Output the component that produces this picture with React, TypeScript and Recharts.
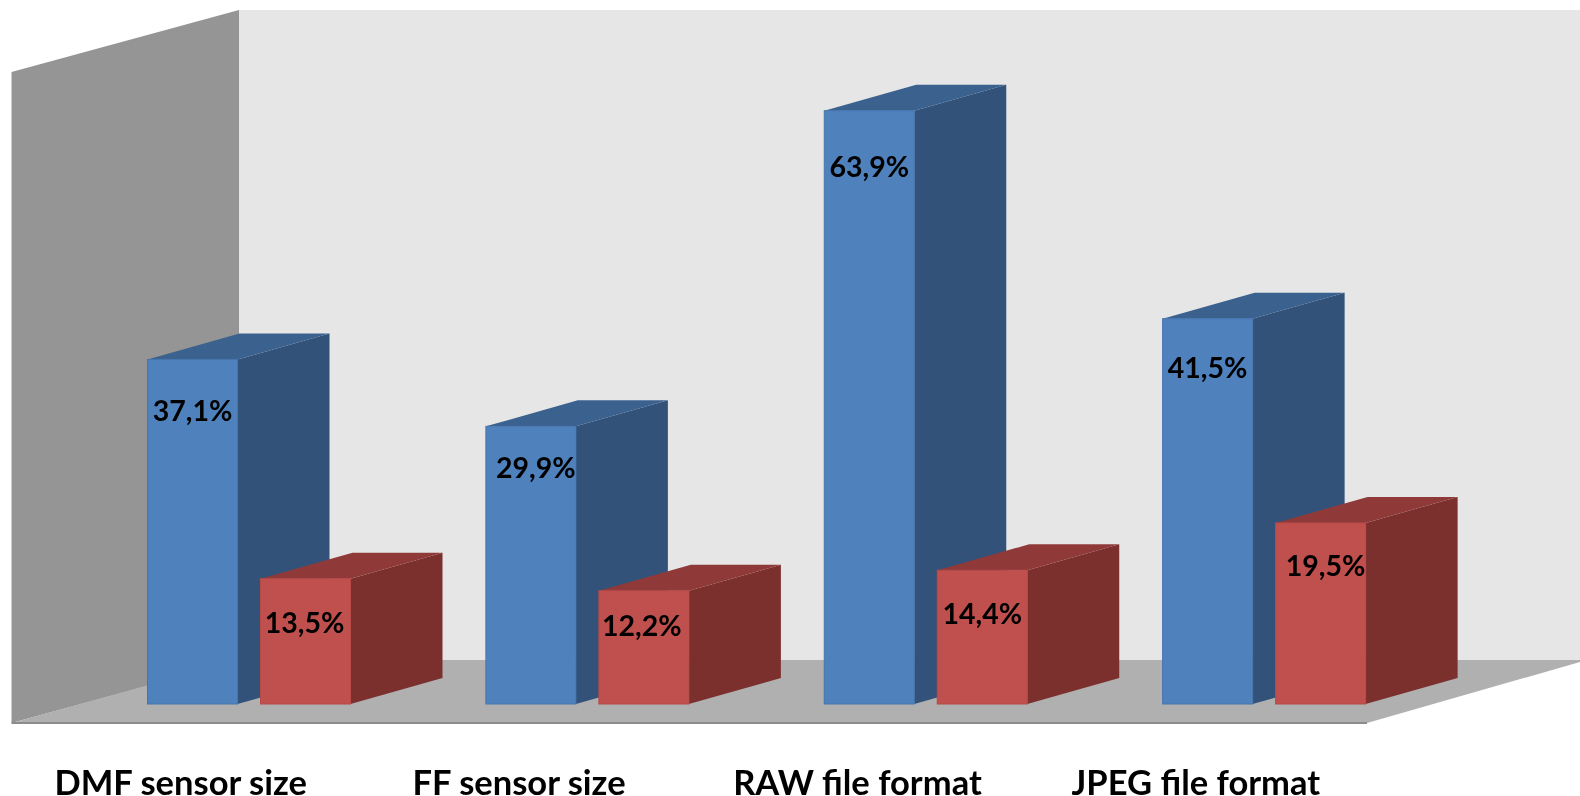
import { Bar, BarChart, LabelList, XAxis, YAxis } from "recharts";

const categories = ["DMF sensor size", "FF sensor size", "RAW file format", "JPEG file format"];
const blueValues = [37.1, 29.9, 63.9, 41.5];
const redValues = [13.5, 12.2, 14.4, 19.5];

const data = categories.map((name, i) => ({ name, blue: blueValues[i], red: redValues[i] }));

// depth of the fake 3d extrusion
const DEPTH_X = 92;
const DEPTH_Y = 26;

// the data labels were placed by hand in the original: [dx from bar centre, dy from bar top]
const blueLabelNudge = [[0, 50], [5, 41], [0, 55], [0, 48]];
const redLabelNudge = [[-1, 43], [-2, 34], [0, 43], [5, 42]];

const blueFaces = { front: "#4F81BD", stroke: "#4675AD", side: "#32527A", top: "#3B618F" };
const redFaces = { front: "#C0504D", stroke: "#B54A47", side: "#7B302E", top: "#8F3A38" };

function boxShape(faces: typeof blueFaces) {
  return function BoxBar(props: any) {
    const { x, y, width: w, height: h } = props;
    return (
      <g>
        <polygon
          points={`${x + w},${y} ${x + w + DEPTH_X},${y - DEPTH_Y} ${x + w + DEPTH_X},${y + h - DEPTH_Y} ${x + w},${y + h}`}
          fill={faces.side}
        />
        <polygon
          points={`${x},${y} ${x + DEPTH_X},${y - DEPTH_Y} ${x + w + DEPTH_X},${y - DEPTH_Y} ${x + w},${y}`}
          fill={faces.top}
        />
        <rect x={x} y={y} width={w} height={h} fill={faces.front} stroke={faces.stroke} strokeWidth={1} />
      </g>
    );
  };
}

function valueLabel(nudge: number[][]) {
  return function ValueLabel(props: any) {
    const { x, y, width, value, index } = props;
    const [dx, dy] = nudge[index];
    return (
      <text
        x={x + width / 2 + dx}
        y={y + dy}
        textAnchor="middle"
        dominantBaseline="central"
        fontFamily="Lato"
        fontWeight={700}
        fontSize={28.5}
        fill="#000"
      >
        {`${Number(value).toFixed(1).replace(".", ",")}%`}
      </text>
    );
  };
}

function CategoryTick(props: any) {
  const { x, y, payload } = props;
  return (
    <text
      x={x - 68}
      y={y + 69}
      textAnchor="middle"
      dominantBaseline="central"
      fontFamily="Lato"
      fontWeight={700}
      fontSize={34.5}
      fill="#000"
    >
      {payload.value}
    </text>
  );
}

export default function App() {
  return (
    <div style={{ position: "absolute", left: 0, top: 0, width: 1580, height: 796, filter: "blur(0.7px)" }}>
      <BarChart
        width={1580}
        height={796}
        data={data}
        barSize={90}
        barGap={23}
        barCategoryGap={0}
        margin={{ top: 54, right: 147, bottom: 0, left: 79.5 }}
      >
        {/* walls and floor */}
        <polygon points="239,10 1580,10 1580,661 239,661" fill="#E6E6E6" />
        <polygon points="11.5,72 239,10 239,661 11.5,723" fill="#959595" />
        <polygon points="11.5,723 239,660 1580,660 1580,662 1367,723" fill="#B0B0B0" />
        <line x1={11.5} y1={723} x2={1367} y2={723} stroke="#8C8C8C" strokeWidth={2} />
        <XAxis dataKey="name" axisLine={false} tickLine={false} height={92} interval={0} tick={CategoryTick} />
        <YAxis hide domain={[0, 70]} />
        <Bar dataKey="blue" isAnimationActive={false} shape={boxShape(blueFaces)}>
          <LabelList dataKey="blue" content={valueLabel(blueLabelNudge)} />
        </Bar>
        <Bar dataKey="red" isAnimationActive={false} shape={boxShape(redFaces)}>
          <LabelList dataKey="red" content={valueLabel(redLabelNudge)} />
        </Bar>
      </BarChart>
    </div>
  );
}
